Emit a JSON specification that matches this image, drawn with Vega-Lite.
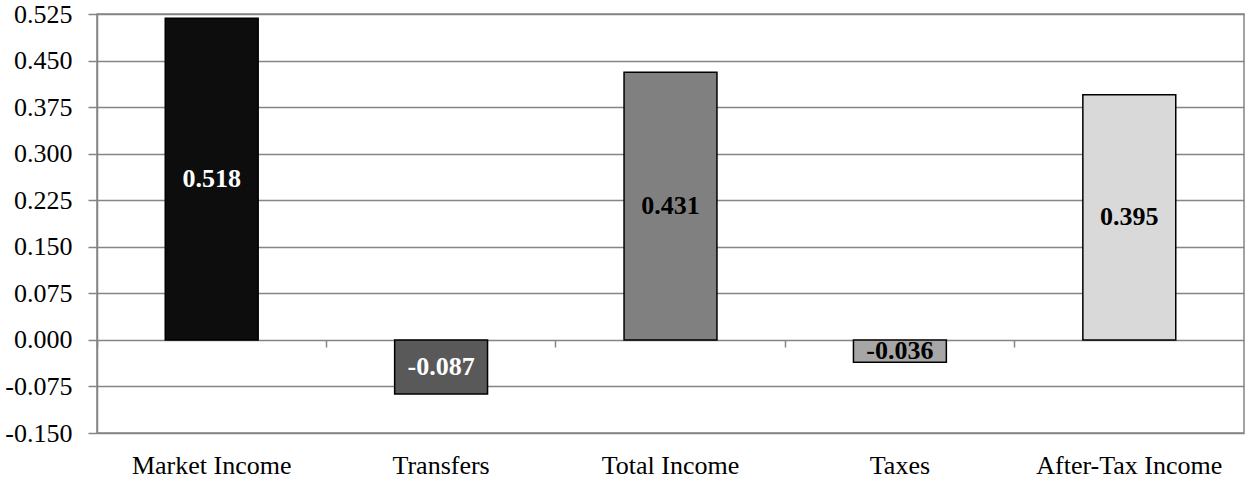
{
  "$schema": "https://vega.github.io/schema/vega-lite/v6.json",
  "width": 1147,
  "height": 419,
  "autosize": {"type": "none"},
  "padding": {"left": 97, "top": 14, "right": 2, "bottom": 46},
  "background": "white",
  "config": {
    "locale": {"number": {"decimal": ".", "thousands": ",", "grouping": [3], "currency": ["$", ""], "minus": "-"}},
    "font": "Liberation Serif",
    "view": {"stroke": "#858585", "strokeWidth": 1.5},
    "axis": {"labelColor": "black", "labelFont": "Liberation Serif", "labelLimit": 0}
  },
  "data": {
    "values": [
      {"category": "Market Income", "value": 0.518},
      {"category": "Transfers", "value": -0.087},
      {"category": "Total Income", "value": 0.431},
      {"category": "Taxes", "value": -0.036},
      {"category": "After-Tax Income", "value": 0.395}
    ]
  },
  "layer": [
    {
      "mark": {"type": "bar", "stroke": "black", "strokeWidth": 1.5},
      "encoding": {
        "x": {
          "field": "category", "type": "nominal", "sort": null,
          "scale": {"paddingInner": 0.595, "paddingOuter": 0.2975},
          "axis": {"orient": "bottom", "title": null, "domain": false, "ticks": false, "grid": false,
                   "labelAngle": 0, "labelFontSize": 26, "labelPadding": 19, "labelColor": "black"}
        },
        "y": {
          "field": "value", "type": "quantitative",
          "scale": {"domain": [-0.15, 0.525], "nice": false, "zero": false},
          "axis": {"title": null, "values": [-0.15, -0.075, 0, 0.075, 0.15, 0.225, 0.3, 0.375, 0.45, 0.525],
                   "format": ".3f", "labelFontSize": 26, "labelPadding": 16, "tickSize": 9,
                   "tickColor": "#858585", "tickWidth": 1.5, "domainColor": "#858585", "domainWidth": 1.5,
                   "gridColor": "#858585", "gridWidth": 1.5, "gridOpacity": 1}
        },
        "color": {
          "field": "category", "type": "nominal", "legend": null,
          "scale": {"domain": ["Market Income", "Transfers", "Total Income", "Taxes", "After-Tax Income"],
                    "range": ["#0d0d0d", "#595959", "#808080", "#a6a6a6", "#d9d9d9"]}
        }
      }
    },
    {
      "mark": {"type": "text", "fontWeight": "bold", "fontSize": 26, "font": "Liberation Serif", "baseline": "middle", "align": "center"},
      "encoding": {
        "x": {
          "field": "category", "type": "nominal", "sort": null,
          "axis": {"orient": "bottom", "offset": -93, "title": null, "labels": false, "domain": false,
                   "grid": false, "bandPosition": -0.734, "tickSize": 7, "tickColor": "#858585", "tickWidth": 1.5}
        },
        "y": {
          "field": "value", "type": "quantitative",
          "scale": {"domain": [-0.3, 1.05], "nice": false, "zero": false},
          "axis": null
        },
        "text": {"field": "value", "type": "quantitative", "format": ".3f"},
        "color": {
          "condition": {"test": "datum.category === 'Market Income' || datum.category === 'Transfers'", "value": "white"},
          "value": "black"
        }
      }
    }
  ],
  "resolve": {"scale": {"y": "independent"}, "axis": {"x": "independent"}}
}
